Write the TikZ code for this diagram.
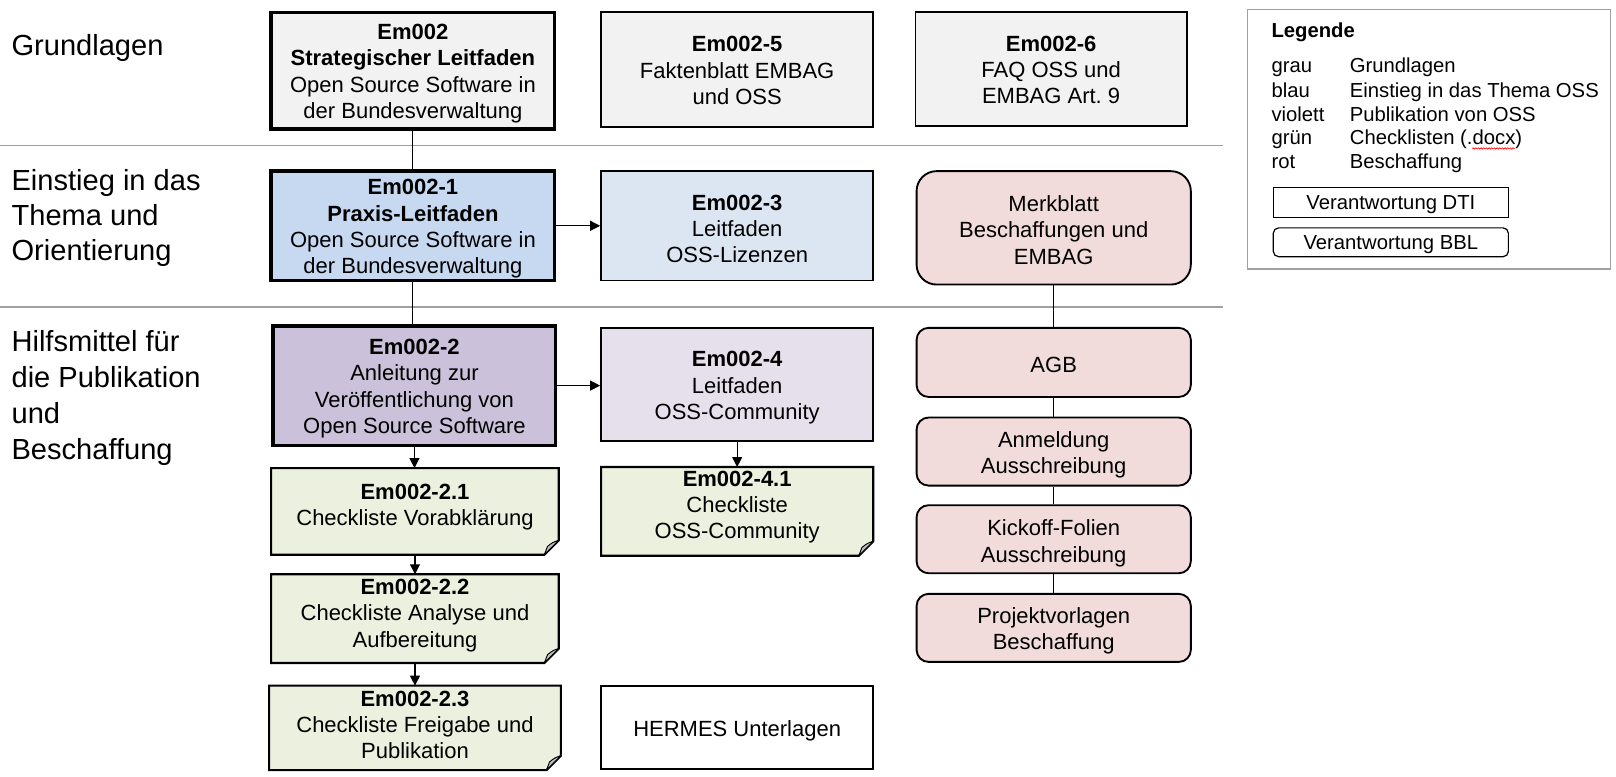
\documentclass[tikz,border=0pt]{standalone}
\usepackage{fontspec}
\setmainfont{Liberation Sans}
\usetikzlibrary{arrows.meta,calc,decorations.pathmorphing}
\frenchspacing
\def\pxu{0.7733pt}
\definecolor{grayfill}{HTML}{F2F2F2}
\definecolor{bluedark}{HTML}{C6D9F1}
\definecolor{bluelight}{HTML}{DCE6F2}
\definecolor{violetdark}{HTML}{CCC1DA}
\definecolor{violetlight}{HTML}{E6E0EC}
\definecolor{greenfill}{HTML}{EBF1DE}
\definecolor{redfill}{HTML}{F2DCDB}
\definecolor{foldgray}{HTML}{BDBDBD}
\definecolor{sepgray}{HTML}{A0A0A0}
\newcommand\boxfont{\fontsize{16.5}{19.7}\selectfont\frenchspacing}
\newcommand\sidefont{\fontsize{21.8}{26}\selectfont}
\newcommand\legfont{\fontsize{15.2}{18}\selectfont}
\tikzset{
  txt/.style={align=center, font=\boxfont, text=black},
  thickbox/.style={txt, draw=black, line width=2.6pt},
  thinbox/.style={txt, draw=black, line width=1.4pt},
  roundbox/.style={txt, draw=black, line width=1.4pt, fill=redfill, rounded corners=9pt},
  foldshape/.style={draw=none, outer sep=0pt},
  foldline/.style={draw=black, line width=1.6pt, fill=greenfill, line join=miter},
  sidetxt/.style={font=\sidefont, inner sep=0pt, anchor=base west},
  legtxt/.style={font=\legfont, inner sep=0pt, anchor=base west},
  legbox/.style={align=center, font=\legfont, draw=black, line width=0.9pt},
  conn/.style={draw=black, line width=0.8pt},
  arr/.style={conn, -{Triangle[length=7.5pt,width=7.5pt]}},
  sepline/.style={draw=sepgray, line width=1.3pt}
}
% name, x1, y1, x2, y2, style, text, vertical text offset
\newcommand\placebox[8]{%
  \node[#6, minimum width={(#4-#2)*\pxu}, minimum height={(#5-#3)*\pxu}] (#1) at ({(#2+#4)/2},{(#3+#5)/2}) {};
  \node[#6, draw=none, fill=none, minimum width=0pt, minimum height=0pt] (#1t) at ($(#1.center)+(0,#8)$) {#7};
}
\newcommand\foldbox[7]{%
  \node[foldshape, minimum width={(#4-#2)*\pxu}, minimum height={(#5-#3)*\pxu}] (#1) at ({(#2+#4)/2},{(#3+#5)/2}) {};
  \filldraw[foldline] (#1.north west) -- (#1.north east) -- ($(#1.south east)+(0,-14)$) -- ($(#1.south east)+(-14,0)$) -- (#1.south west) -- cycle;
  \filldraw[fill=foldgray, draw=black, line width=0.7pt, line join=round] ($(#1.south east)+(-14,0)$) -- ($(#1.south east)+(-11,-8)$) .. controls ($(#1.south east)+(-6,-12)$) .. ($(#1.south east)+(0,-14)$) -- cycle;
  \node[txt] (#1t) at ($(#1.center)+(0,#7)$) {#6};
}
\begin{document}
\begin{tikzpicture}[x=0.7733pt, y=-0.7733pt]
\useasboundingbox (0,0) rectangle (1567.4,752.7);

% separators
\coordinate (s1a) at (0,141); \coordinate (s1b) at (1186,141);
\coordinate (s2a) at (0,298); \coordinate (s2b) at (1186,298);
\draw[sepline] (s1a) -- (s1b);
\draw[sepline] (s2a) -- (s2b);

% side labels
\node[sidetxt] (g1) at (11,54) {Grundlagen};
\node[sidetxt] (e1) at (11,185) {Einstieg in das};
\node[sidetxt] (e2) at (11,219) {Thema und};
\node[sidetxt] (e3) at (11,253) {Orientierung};
\node[sidetxt] (h1) at (11,341) {Hilfsmittel für};
\node[sidetxt] (h2) at (11,376) {die Publikation};
\node[sidetxt] (h3) at (11,411) {und};
\node[sidetxt] (h4) at (11,446) {Beschaffung};

% column 1
\placebox{b0}{263}{12}{538}{125}{thickbox, fill=grayfill}{\textbf{Em002}\\\textbf{Strategischer Leitfaden}\\Open Source Software in\\der Bundesverwaltung}{3}
\placebox{b1}{263}{166}{538}{272}{thickbox, fill=bluedark}{\textbf{Em002-1}\\\textbf{Praxis-Leitfaden}\\Open Source Software in\\der Bundesverwaltung}{3}
\placebox{b2}{265}{316}{539}{432}{thickbox, fill=violetdark}{\textbf{Em002-2}\\Anleitung zur\\Veröffentlichung von\\Open Source Software}{3}
\foldbox{c21}{263}{454}{542}{538}{\textbf{Em002-2.1}\\Checkliste Vorabklärung}{-4}
\foldbox{c22}{263}{557}{542}{643}{\textbf{Em002-2.2}\\Checkliste Analyse und\\Aufbereitung}{-3}
\foldbox{c23}{261}{665}{544}{747}{\textbf{Em002-2.3}\\Checkliste Freigabe und\\Publikation}{-3}

% column 2
\placebox{b5}{583}{12}{847}{123}{thinbox, fill=grayfill}{\textbf{Em002-5}\\Faktenblatt EMBAG\\und OSS}{1}
\placebox{b3}{583}{166}{847}{272}{thinbox, fill=bluelight}{\textbf{Em002-3}\\Leitfaden\\OSS-Lizenzen}{3}
\placebox{b4}{583}{318}{847}{428}{thinbox, fill=violetlight}{\textbf{Em002-4}\\Leitfaden\\OSS-Community}{3}
\foldbox{c41}{583}{453}{847}{539}{\textbf{Em002-4.1}\\Checkliste\\OSS-Community}{-4}
\placebox{hm}{583}{665}{847}{746}{thinbox, fill=white}{HERMES Unterlagen}{3}

% column 3
\placebox{b6}{888}{12}{1151}{122}{thinbox, fill=grayfill}{\textbf{Em002-6}\\FAQ OSS und\\EMBAG Art. 9}{1}
\placebox{r1}{889}{166}{1155}{276}{roundbox, rounded corners=15pt}{Merkblatt\\Beschaffungen und\\EMBAG}{2}
\placebox{r2}{889}{318}{1155}{385}{roundbox}{AGB}{2}
\placebox{r3}{889}{405}{1155}{471}{roundbox}{Anmeldung\\Ausschreibung}{3}
\placebox{r4}{889}{490}{1155}{556}{roundbox}{Kickoff-Folien\\Ausschreibung}{4}
\placebox{r5}{889}{576}{1155}{642}{roundbox}{Projektvorlagen\\Beschaffung}{3}

% connectors
\draw[conn] (b0.south) -- (b1.north);
\draw[conn] (b1.south) -- (b1.south |- b2.north);
\draw[arr] (b1.east) -- (b3.west);
\draw[arr] (b2.east) -- (b2.east -| b4.west);
\draw[arr] (b2.south) -- (b2.south |- c21.north);
\draw[arr] (c21.south) -- (c21.south |- c22.north);
\draw[arr] (c22.south) -- (c22.south |- c23.north);
\draw[arr] (b4.south) -- (b4.south |- c41.north);
\draw[conn] (r1.south) -- (r2.north);
\draw[conn] (r2.south) -- (r3.north);
\draw[conn] (r3.south) -- (r4.north);
\draw[conn] (r4.south) -- (r5.north);

% legend
\node[draw=sepgray, line width=1pt, minimum width={352*\pxu}, minimum height={252*\pxu}] (lg) at (1386,135) {};
\node[legtxt] (lgt) at (1233,35.9) {\textbf{Legende}};
\node[legtxt] (la1) at (1233,70.8) {grau};
\node[legtxt] (lb1) at (1309,70.8) {Grundlagen};
\node[legtxt] (la2) at (1233,94.1) {blau};
\node[legtxt] (lb2) at (1309,94.1) {Einstieg in das Thema OSS};
\node[legtxt] (la3) at (1233,117.4) {violett};
\node[legtxt] (lb3) at (1309,117.4) {Publikation von OSS};
\node[legtxt] (la4) at (1233,140.6) {grün};
\node[legtxt] (lb4) at (1309,140.6) {Checklisten (.docx)};
\node[legtxt] (la5) at (1233,163.9) {rot};
\node[legtxt] (lb5) at (1309,163.9) {Beschaffung};
\draw[red, line width=0.5pt, decorate, decoration={snake, amplitude=0.5pt, segment length=2pt}] (1428,144) -- (1469,144);
\placebox{ldti}{1235}{182}{1463}{211}{legbox}{Verantwortung DTI}{2}
\placebox{lbbl}{1235}{221}{1463}{249}{legbox, rounded corners=4pt}{Verantwortung BBL}{2}
\end{tikzpicture}
\end{document}
